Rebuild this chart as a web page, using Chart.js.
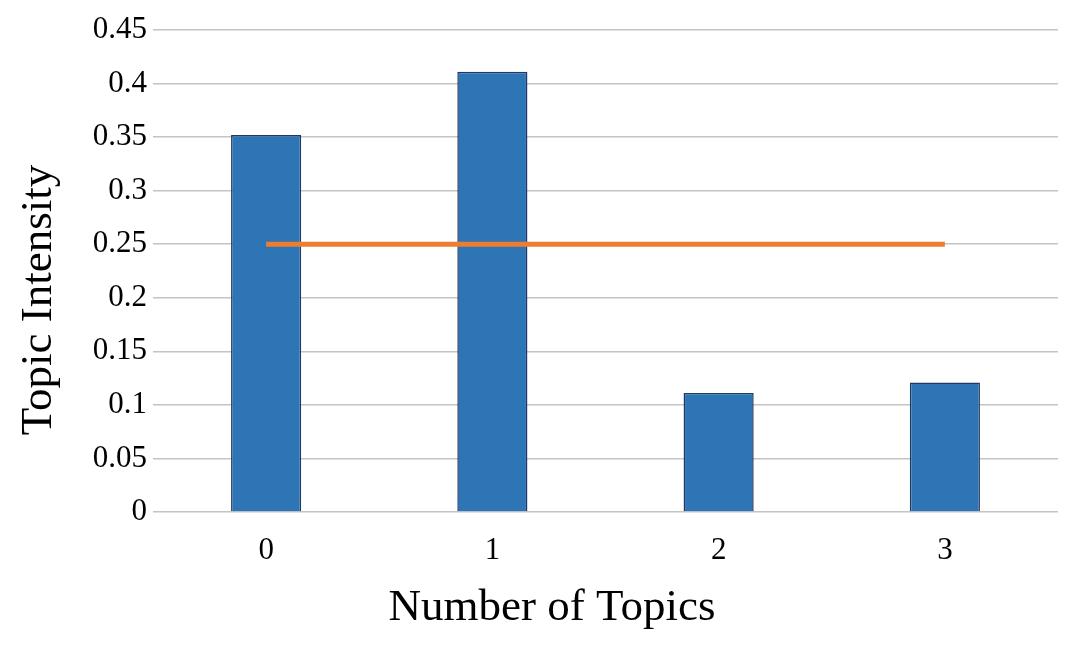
<!DOCTYPE html>
<html>
<head>
<meta charset="utf-8">
<script src="https://cdn.jsdelivr.net/npm/chart.js@4"></script>
<style>
  html, body { margin: 0; padding: 0; background: #fff; }
  #wrap { width: 1084px; height: 646px; }
</style>
</head>
<body>
<div id="wrap"><canvas id="chart" width="1084" height="646"></canvas></div>
<script>
const categories = ['0', '1', '2', '3'];
const intensity = [0.352, 0.411, 0.111, 0.121];
const average = [0.25, 0.25, 0.25, 0.25];
const xTitle = 'Number of Topics';
const yTitle = 'Topic Intensity';

const serif = '"Liberation Serif", "Times New Roman", serif';

// axis titles drawn by hand: the originals are not centred on the plot area
const axisTitles = {
    id: 'axisTitles',
    afterDraw(chart) {
        const ctx = chart.ctx;
        ctx.save();
        ctx.fillStyle = '#000';
        ctx.font = '45px ' + serif;
        ctx.textAlign = 'center';
        ctx.textBaseline = 'alphabetic';
        ctx.fillText(xTitle, 552, 620);
        ctx.translate(51, 300);
        ctx.rotate(-Math.PI / 2);
        ctx.fillText(yTitle, 0, 0);
        ctx.restore();
    }
};

new Chart(document.getElementById('chart').getContext('2d'), {
    data: {
        labels: categories,
        datasets: [{
            type: 'line',
            label: 'Average',
            data: average,
            borderColor: '#ED7D31',
            borderWidth: 5,
            pointRadius: 0,
            order: 0
        }, {
            type: 'bar',
            label: 'Topic Intensity',
            data: intensity,
            backgroundColor: '#2E75B6',
            borderColor: '#1F3864',
            borderWidth: 1.5,
            barPercentage: 0.31,
            categoryPercentage: 1,
            order: 1
        }]
    },
    options: {
        responsive: false,
        animation: false,
        layout: { padding: { top: 30, right: 26, bottom: 0, left: 0 } },
        plugins: {
            legend: { display: false },
            tooltip: { enabled: false }
        },
        scales: {
            x: {
                grid: { display: false, drawTicks: false },
                border: { display: false },
                ticks: { color: '#000', font: { family: serif, size: 31 }, padding: 20 },
                afterFit: scale => { scale.height = 134; }
            },
            y: {
                min: 0,
                max: 0.45,
                ticks: {
                    stepSize: 0.05,
                    color: '#000',
                    font: { family: serif, size: 31 },
                    padding: 6,
                    callback: v => String(Math.round(v * 100) / 100)
                },
                grid: { color: '#C4C4C4', lineWidth: 1.5, drawTicks: false },
                border: { display: false },
                afterFit: scale => { scale.width = 153; }
            }
        }
    },
    plugins: [axisTitles]
});
</script>
</body>
</html>
